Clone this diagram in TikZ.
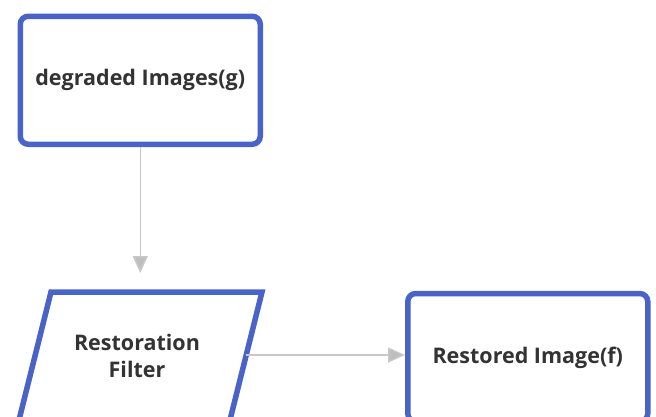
\documentclass[tikz,border=0pt]{standalone}
\usepackage{fontspec}
\setmainfont{Open Sans}
\usetikzlibrary{arrows.meta}
\definecolor{boxblue}{RGB}{74,99,200}
\definecolor{txt}{RGB}{51,51,51}
\definecolor{conn}{RGB}{200,200,200}
\definecolor{headc}{RGB}{190,190,190}
\tikzset{
  x=1pt, y=-1pt,
  rbox/.style={draw=boxblue, line width=5.5pt, rounded corners=8pt, fill=white,
    minimum width=240pt, minimum height=128pt, inner sep=0pt},
  lbl/.style={text=txt, font=\bfseries\fontsize{21.5}{27}\selectfont, align=center},
  conn/.style={draw=conn, line width=1.5pt, -{Triangle[length=17pt,width=15pt,fill=headc]}}
}
\begin{document}
\begin{tikzpicture}
\useasboundingbox (0,0) rectangle (656,416);
\clip (0,0) rectangle (656,416);
\node[rbox, lbl] (deg) at (140.25,80.25) {degraded Images(g)};
\draw[draw=boxblue, line width=5.5pt, fill=white] (51,292) -- (262,292) -- (230,420) -- (19,420) -- cycle;
\node[lbl] (rf) at (137,356) {Restoration\\Filter};
\coordinate (rfR) at (246,355);
\node[rbox, lbl] (res) at (527.75,357.5) {Restored Image(f)};
\draw[conn, shorten >=19pt] (deg.south) -- (deg.south |- 0,292);
\draw[conn] (rfR) -- (res.west |- rfR);
\end{tikzpicture}
\end{document}
